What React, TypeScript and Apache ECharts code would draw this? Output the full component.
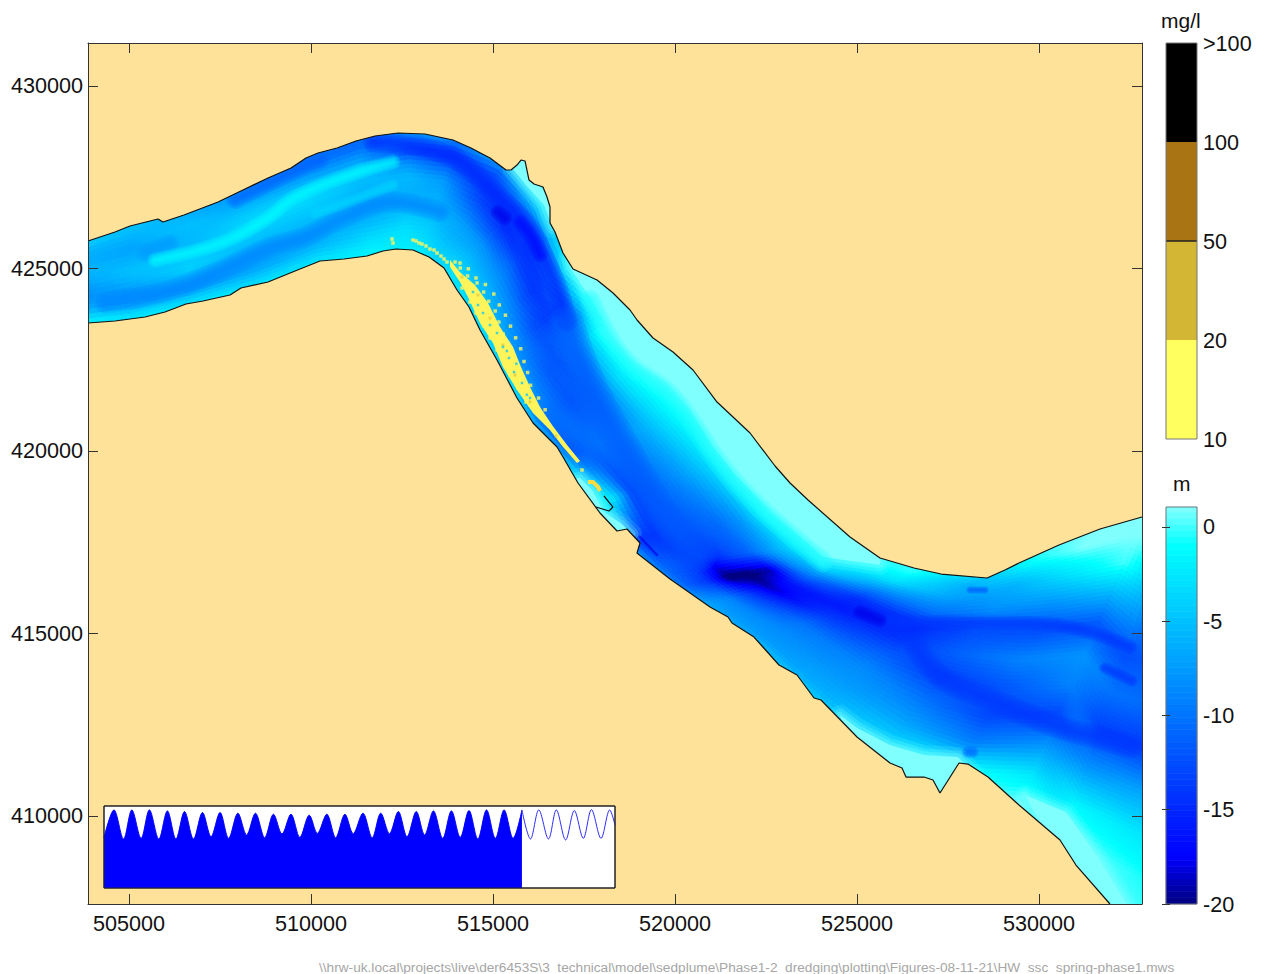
import React, { useEffect, useRef } from "react";
import * as echarts from "echarts";

const xMin = 503873, xMax = 532827, yMin = 407587, yMax = 431178;
const eastTicks = [505000, 510000, 515000, 520000, 525000, 530000];
const northTicks = [410000, 415000, 420000, 425000, 430000];

const northBank = [[503873,425753],[504615,425999],[505027,426164],[505796,426355],[505934,426273],[506510,426465],[507445,426821],[508186,427177],[508818,427479],[509450,427753],[509862,428027],[510191,428164],[510713,428301],[511235,428493],[511757,428630],[512389,428712],[513131,428684],[513900,428520],[514394,428301],[514916,428027],[515356,427698],[515493,427698],[515658,427835],[515768,427972],[515878,427945],[515988,427424],[516125,427314],[516372,427232],[516482,426958],[516565,426684],[516565,426246],[516702,426000],[516922,425424],[517197,424985],[517856,424684],[518296,424328],[518762,423862],[518955,423588],[519394,423095],[519943,422711],[520493,422218],[521152,421341],[521592,420930],[522059,420492],[522746,419588],[523158,419122],[523652,418656],[524806,417642],[525630,417067],[526564,416793],[527306,416628],[528570,416519],[529063,416738],[529448,416930],[530547,417423],[531673,417861],[532827,418190]];
const southBank = [[503873,423506],[504615,423561],[505439,423670],[505989,423807],[506565,424026],[507032,424109],[507774,424273],[508076,424465],[508818,424629],[509560,424931],[510247,425205],[510906,425259],[511538,425342],[511977,425479],[512334,425533],[512801,425506],[513241,425314],[513653,425013],[514010,424410],[514339,423944],[514642,423314],[515109,422492],[515658,421451],[516098,420766],[516757,420108],[516922,419834],[517334,419122],[517938,418300],[518405,417807],[518680,417861],[519037,417478],[518954,417204],[519092,417094],[519861,416491],[520960,415724],[521454,415450],[521564,415286],[522168,414902],[522855,414135],[523350,413861],[523817,413231],[524009,413176],[524998,412162],[525904,411450],[526234,411313],[526344,411066],[526838,411066],[527085,410984],[527278,410628],[527800,411450],[528047,411422],[528596,411066],[529448,410299],[530574,409340],[531013,408655],[531947,407587]];
const harbourWall = [[517828,418464],[518185,418355],[518295,418464],[518047,418766]];

const sectionNorthEnds = [[503379,425780],[505027,426383],[506675,426739],[508186,427424],[509697,428109],[511208,428712],[512719,428931],[514092,428794],[515603,428246],[516427,427424],[516839,426191],[517252,425177],[517938,424739],[519037,424000],[520136,422903],[521372,421396],[522608,420026],[523981,418519],[525080,417560],[525492,417286],[525904,417149],[526995,416875],[528652,416738],[530300,417560],[531673,418108],[533047,418519],[533734,418519],[534145,418519]];
const sectionSouthEnds = [[503379,423314],[505027,423451],[506675,423862],[508461,424355],[510247,425013],[511757,425177],[512581,425369],[512993,425342],[513131,424875],[513543,424465],[513955,423780],[514367,423095],[514779,422410],[515329,421451],[515878,420628],[516702,419807],[517845,418574],[518350,417478],[519037,416793],[519724,416190],[520410,415642],[522059,414546],[523706,412847],[525355,411313],[527278,410436],[529448,410299],[530300,408244],[533321,406874]];
const sectionDepths = [
  [-3,-4,-6,-6,-5.5,-7,-8.5,-8,-6,-2.5,-1],
  [-5,-5,-6,-7,-6,-5,-6,-8,-7,-3.5,-1.5],
  [-6,-6,-5,-5.5,-5.5,-4.5,-4,-5.5,-8,-4,-1.5],
  [-8,-8,-6.5,-4.5,-3.5,-4.5,-5.5,-7,-7,-4,-1.5],
  [-9,-10,-7.5,-4.5,-3.5,-4.5,-5.5,-6.5,-6,-3.5,-1.5],
  [-9,-11,-7.5,-4.5,-5.5,-6,-6.5,-5.5,-3.5,-2,-1.5],
  [-7,-8,-13,-8,-5.5,-6,-6,-4.5,-3,-2.5,-1.5],
  [-6,-10,-14,-11,-7.5,-6.5,-6,-5,-4,-3,-1.5],
  [-3,-6,-12,-14,-13,-10,-7,-6,-4.5,-3.5,-1.5],
  [-1,-2,-8,-14,-15,-12,-8,-6,-4,-2.5,-1.5],
  [-3,-5,-12,-14.5,-13.5,-10,-8,-6,-4.5,-3,-1.5],
  [0,-3,-9,-13.5,-14,-12,-9,-7,-5,-3,-1.5],
  [1,1,-3,-10,-13.5,-13.5,-12,-9,-7,-4,-1.5],
  [1,1,1,-0.5,-5,-9.5,-12,-11.5,-9,-4,-1.5],
  [1,1,1,-0.5,-3,-8,-11,-12,-10.5,-10,-2],
  [1,1,-0.5,-1.5,-4,-6.5,-8.5,-10,-10.5,-12,-3],
  [1,1,-1,-2.5,-5,-7.5,-9.5,-11,-13,-3,-1],
  [1,1,1,-3,-8,-10.5,-11.5,-12.5,-14,-14,-1],
  [1,1,-1,-3,-7,-11,-13,-16,-12.5,-11,-6],
  [1,0,-1.5,-4,-9,-19,-20.5,-20.5,-14,-11,-5],
  [0,-0.5,-2,-4,-10,-16,-19,-14,-9,-7,-3],
  [0,-0.5,-3,-9,-14.5,-16,-13.5,-10,-8.5,-7.5,-3],
  [-0.5,-6,-7,-10,-15,-14,-11,-8.5,-7.5,-6,-2],
  [1,-1,-6,-8,-12.5,-11,-13.5,-10,-7,-3,1],
  [1,1,-3,-8,-12.5,-9,-12,-13,-9,0,1],
  [1,1,0,-6,-12,-8,-9,-13,-8,-2.5,1],
  [1,1,-4,-8,-12.5,-10,-13.5,-8,-1.5,1,1],
  [1,1,-6,-14.5,-11,-11,-14,-6.5,-3,-1,0],
];

// along-channel streaks of the bed, each with the depth it reads at
const streakPaths = [
  [[505439,425424],[506126,425698]],
  [[507911,426876],[508736,427287],[509560,427698],[510246,427972]],
  [[504340,424054],[505879,424328],[507362,424876],[508900,425588],[509834,425862],[510878,426383],[512252,426821],[513543,426547]],
  [[505714,425232],[507527,425698],[508736,426328],[509560,426958],[511208,427616],[512252,427917]],
  [[510109,426520],[510796,426739],[512252,427287]],
  [[511702,428465],[512362,428438],[513735,428109],[514449,427643],[515191,426931],[515933,426191],[516372,425369],[516757,424465],[517031,423533]],
  [[517031,423533],[517663,421807],[518625,420026],[519586,418382],[520685,417149]],
  [[515136,426547],[515328,426383]],
  [[515740,426273],[516015,425917],[516290,425369]],
  [[519037,417642],[519504,417149]],
  [[517663,424136],[518295,422903],[518845,422273],[519778,421615],[520410,420848],[521042,419889],[521701,419067],[522690,418108],[524064,416957]],
  [[525630,415423],[526838,415286],[528706,415286],[530107,415258],[531481,415012],[532500,414620]],
  [[526591,414683],[527305,413806],[528706,413176],[530547,412436],[531673,412135],[532500,411900]],
  [[531810,414053],[532222,413861],[532550,413700]],
  [[528102,416190],[528514,416190]],
  [[528047,411751],[528184,411751]],
  [[525080,415587],[525630,415368]],
];
const streakDepths = [-7.5, -11, -9, -1, -3.5, -15, -11.5, -18, -17, -18, -0.5, -14, -14, -14, -12, -11, -18];
const streakWidths = [12, 12, 14, 10, 8, 14, 22, 10, 10, 2, 14, 10, 16, 8, 5, 8, 10];

const shoalAreas = [
  [[517114,425013],[517663,424218],[518295,423122],[518845,422492],[519778,421862],[520410,421122],[521042,420108],[521701,419286],[522690,418300],[524064,417094],[525630,416875],[525630,417286],[523652,418930],[520685,422766],[517938,424958],[517059,425287]],
  [[515521,427753],[515795,428109],[516070,427479],[516647,426876],[516647,426109],[516400,426739],[515905,427287]],
  [[517389,419259],[517718,418930],[518048,418327],[518542,417998],[518817,417724],[518268,417615],[517608,418437],[517169,419204]],
  [[524531,412765],[524998,412409],[525904,411943],[526838,411669],[527772,411614],[528239,411121],[527278,410436],[526179,410847],[524806,411943]],
  [[529613,410573],[530739,410107],[531481,409066],[532415,407587],[531810,407587],[530574,408792]],
];

const plumeCore = [[513818,425040],[514092,424629],[514312,424218],[514642,423506],[514999,422958],[515274,422300],[515658,421670],[516098,421040],[516565,420574],[516922,420108],[517306,419670],[517389,419725],[517032,420163],[516620,420711],[516290,421204],[516015,421752],[515768,422300],[515548,422848],[515191,423396],[514861,424054],[514504,424547],[514092,424900],[513818,425232]];
const plumeSpecks = [[512224,425807],[512252,425698],[512801,425780],[512884,425753],[512966,425698],[513048,425670],[513158,425616],[513268,425533],[513378,425506],[513460,425424],[513570,425342],[513653,425260],[513735,425177],[513955,425177],[514092,425150],[514100,425013],[514320,424990],[514300,424794],[514530,424740],[514560,424602],[514790,424560],[514740,424355],[515020,424300],[514880,424100],[515170,424000],[515060,423835],[515340,423720],[515160,423533],[515480,423420],[515280,423204],[515620,423100],[515420,422876],[515760,422800],[515500,422574],[515850,422450],[515640,422273],[515950,422150],[515720,421917],[516030,421800],[515880,421588],[516250,421450],[516020,421259],[516430,421130],[517444,419478],[514147,424465],[514367,424081],[514532,423780],[514751,423424],[514916,423095],[515109,422766],[515273,422492],[515466,422081],[515685,421725],[515905,421341]];
const plumeOchre = [[514147,424766],[514587,424273],[514916,423643],[515274,422903],[515603,422081],[516015,421341],[516729,420410]];
const plumeGaps = [[514724,423780],[514916,423451],[515109,423232],[515273,422848],[515438,422547],[515576,422163],[515795,421862],[516015,421451],[514449,424355],[514587,423999],[515380,422740],[515640,422390],[515930,421540]];
const plumeTip = [[517608,419149],[517745,419149],[517883,419012],[517938,418903]];

const tideHours = [0,7.0,13.7,19.5,26.0,31.8,38.4,44.4,50.4,56.4,62.7,69.0,75.0,81.3,87.3,93.8,99.9,106.1,112.6,118.7,124.7,131.0,137.2,143.8,149.5,156.1,162.3,168.8,174.6,181.4,187.9,193.9,200.0,206.2,212.3,218.8,224.6,230.8,237.3,243.4,249.6,255.7,261.9,268.0,274.2,280.3,286.6,292.8,298.8,304.6,311.4,316.9,323.4,329.5,335.8,341.5,348.2,354.3,358];
const tideLevels = [61.4,95.2,59.8,95.2,60.6,95.2,59.8,94.0,59.8,93.2,59.8,92.0,62.7,92.0,60.6,91.2,64.7,91.2,61.4,90.0,65.9,90.0,61.8,88.8,66.7,90.0,61.4,90.0,66.3,91.2,61.4,91.2,66.3,93.2,62.7,93.2,64.7,94.0,60.6,94.0,61.8,94.4,59.8,95.2,60.6,95.2,60.6,95.2,59.8,95.2,59.8,95.2,58.6,94.4,60.6,95.6,60.6,95.2,76.7];
const tideNowIndex = 47;

const concBandColors = ["#FFFF60", "#D2B634", "#A97514", "#000000"];
const concTickLabels = ["10", "20", "50", "100", ">100"];
const depthTicks = [0, -5, -10, -15, -20];
const footerPath = "\\\\hrw-uk.local\\projects\\live\\der6453S\\3_technical\\model\\sedplume\\Phase1-2_dredging\\plotting\\Figures-08-11-21\\HW_ssc_spring-phase1.mws";

const SAND = "#FEE29A";
const FONT = "Liberation Sans, Arial, sans-serif";

function depthColor(d: number) {
  let r = 0, g = 0, b = 255;
  if (d >= -1) {
    const t = Math.min(1, (d + 1) / 2);
    r = 128 * t; g = 255;
  } else if (d >= -17.5) {
    g = (255 * (d + 17.5)) / 16.5;
  } else {
    b = 255 - 127 * Math.min(1, (-17.5 - d) / 2.5);
  }
  return `rgb(${Math.round(r)},${Math.round(g)},${Math.round(b)})`;
}

function buildMesh() {
  const cells: number[][] = [];
  const n = sectionDepths.length;
  const m = sectionDepths[0].length;
  const pt = (i: number, j: number) => {
    const f = j / (m - 1);
    return [
      sectionNorthEnds[i][0] + (sectionSouthEnds[i][0] - sectionNorthEnds[i][0]) * f,
      sectionNorthEnds[i][1] + (sectionSouthEnds[i][1] - sectionNorthEnds[i][1]) * f,
    ];
  };
  for (let i = 0; i < n - 1; i++) {
    for (let j = 0; j < m - 1; j++) {
      const a = pt(i, j), b = pt(i + 1, j), c = pt(i + 1, j + 1), d = pt(i, j + 1);
      const da = sectionDepths[i][j], db = sectionDepths[i + 1][j], dc = sectionDepths[i + 1][j + 1], dd = sectionDepths[i][j + 1];
      const su = Math.max(1, Math.ceil(Math.hypot(b[0] - a[0], b[1] - a[1]) / 130));
      const sv = Math.max(1, Math.ceil(Math.hypot(d[0] - a[0], d[1] - a[1]) / 130));
      const at = (u: number, v: number) => [
        (a[0] * (1 - u) + b[0] * u) * (1 - v) + (d[0] * (1 - u) + c[0] * u) * v,
        (a[1] * (1 - u) + b[1] * u) * (1 - v) + (d[1] * (1 - u) + c[1] * u) * v,
      ];
      for (let p = 0; p < su; p++) {
        for (let q = 0; q < sv; q++) {
          const u0 = p / su, u1 = (p + 1) / su, v0 = q / sv, v1 = (q + 1) / sv;
          const uc = (u0 + u1) / 2, vc = (v0 + v1) / 2;
          const depth = (da * (1 - uc) + db * uc) * (1 - vc) + (dd * (1 - uc) + dc * uc) * vc;
          const c1 = at(u0, v0), c2 = at(u1, v0), c3 = at(u1, v1), c4 = at(u0, v1);
          cells.push([c1[0], c1[1], c2[0], c2[1], c3[0], c3[1], c4[0], c4[1], depth]);
        }
      }
    }
  }
  return cells;
}

function rectShape(api: any, x0: number, y0: number, x1: number, y1: number) {
  const p0 = api.coord([x0, y0]);
  const p1 = api.coord([x1, y1]);
  return {
    x: Math.min(p0[0], p1[0]),
    y: Math.min(p0[1], p1[1]),
    width: Math.abs(p1[0] - p0[0]),
    height: Math.abs(p1[1] - p0[1]),
  };
}

function polygonSeries(points: number[][], style: any, z: number) {
  return {
    type: "custom",
    coordinateSystem: "cartesian2d",
    xAxisIndex: 0,
    yAxisIndex: 0,
    silent: true,
    clip: true,
    z,
    data: [points[0]],
    renderItem: (_: any, api: any) => ({
      type: "polygon",
      shape: { points: points.map((p) => api.coord(p)) },
      style,
    }),
  };
}

function softArea(points: number[][]) {
  const fill = depthColor(1);
  return [
    polygonSeries(points, { fill: "none", stroke: fill, lineWidth: 20, opacity: 0.15, lineJoin: "round" }, 2),
    polygonSeries(points, { fill: "none", stroke: fill, lineWidth: 13, opacity: 0.22, lineJoin: "round" }, 2),
    polygonSeries(points, { fill: "none", stroke: fill, lineWidth: 7, opacity: 0.3, lineJoin: "round" }, 2),
    polygonSeries(points, { fill }, 2),
  ];
}

function frameSeries(idx: number, x0: number, y0: number, x1: number, y1: number, color: string, fill: string, z: number) {
  return {
    type: "custom",
    coordinateSystem: "cartesian2d",
    xAxisIndex: idx,
    yAxisIndex: idx,
    silent: true,
    z,
    data: [[x0, y0, x1, y1]],
    renderItem: (_: any, api: any) => ({
      type: "rect",
      shape: rectShape(api, api.value(0), api.value(1), api.value(2), api.value(3)),
      style: { fill, stroke: color, lineWidth: 1 },
    }),
  };
}

function bankLine(data: number[][], z: number) {
  return {
    type: "line",
    xAxisIndex: 0,
    yAxisIndex: 0,
    data,
    showSymbol: false,
    silent: true,
    z,
    lineStyle: { color: "#111", width: 1.2 },
  };
}

function streakSeries() {
  const layers = [1.5, 1.2, 0.9, 0.6, 0.3];
  const out: any[] = [];
  streakPaths.forEach((path, i) => {
    layers.forEach((w) => {
      out.push({
        type: "line",
        xAxisIndex: 0,
        yAxisIndex: 0,
        data: path,
        smooth: 0.4,
        showSymbol: false,
        silent: true,
        z: 2,
        lineStyle: { color: depthColor(streakDepths[i]), width: streakWidths[i] * w, opacity: 0.22, cap: "round", join: "round" },
      });
    });
  });
  return out;
}

function buildOption() {
  const mesh = buildMesh();
  const colorbarLevels: number[] = [];
  for (let v = -20; v < 1.06; v += 0.33) colorbarLevels.push(v);

  const labelStyle = { fontFamily: FONT, fontSize: 21.6, color: "#111" };
  const hiddenAxis = (gridIndex: number, min: number, max: number) => ({
    type: "value", gridIndex, min, max, show: false, splitLine: { show: false },
  });
  const axisLine = { show: true, onZero: false, lineStyle: { color: "#333", width: 1 } };
  const mainX = (position: string, showLabel: boolean) => ({
    type: "value", gridIndex: 0, position, min: xMin, max: xMax, z: 10,
    axisLine, splitLine: { show: false },
    axisTick: { show: true, inside: true, length: 10, customValues: eastTicks, lineStyle: { color: "#333" } },
    axisLabel: { show: showLabel, customValues: eastTicks, margin: 8, ...labelStyle, formatter: (v: number) => String(v) },
  });
  const mainY = (position: string, showLabel: boolean) => ({
    type: "value", gridIndex: 0, position, min: yMin, max: yMax, z: 10,
    axisLine, splitLine: { show: false },
    axisTick: { show: true, inside: true, length: 10, customValues: northTicks, lineStyle: { color: "#333" } },
    axisLabel: { show: showLabel, customValues: northTicks, margin: 5, ...labelStyle, formatter: (v: number) => String(v) },
  });
  const barY = (position: string, showLabel: boolean) => ({
    type: "value", gridIndex: 3, position, min: -20, max: 1.06, z: 10,
    axisLine: { show: false }, splitLine: { show: false },
    axisTick: { show: true, inside: true, length: 4, customValues: depthTicks, lineStyle: { color: "#333" } },
    axisLabel: { show: showLabel, customValues: depthTicks, margin: 6, ...labelStyle, formatter: (v: number) => String(v) },
  });

  return {
    animation: false,
    backgroundColor: "#ffffff",
    grid: [
      { left: 88, top: 43, width: 1054, height: 861, show: true, backgroundColor: SAND, borderWidth: 0 },
      { left: 104, top: 806, width: 511, height: 82 },
      { left: 1166, top: 43, width: 31, height: 396 },
      { left: 1166, top: 507, width: 31, height: 397 },
    ],
    xAxis: [
      mainX("bottom", true),
      { ...hiddenAxis(1, 0, 358) },
      hiddenAxis(2, 0, 1),
      hiddenAxis(3, 0, 1),
      mainX("top", false),
    ],
    yAxis: [
      mainY("left", true),
      hiddenAxis(1, 0, 100),
      {
        type: "value", gridIndex: 2, position: "right", min: 0, max: 4, interval: 1, z: 10,
        axisLine: { show: false }, axisTick: { show: false }, splitLine: { show: false },
        axisLabel: { margin: 6, ...labelStyle, formatter: (v: number) => concTickLabels[v] },
      },
      barY("right", true),
      mainY("right", false),
      barY("left", false),
    ],
    graphic: {
      elements: [
        { type: "text", x: 1161, y: 10, silent: true, style: { text: "mg/l", font: `21px ${FONT}`, fill: "#111" } },
        { type: "text", x: 1173, y: 473, silent: true, style: { text: "m", font: `21px ${FONT}`, fill: "#111" } },
        { type: "text", x: 319, y: 960, silent: true, style: { text: footerPath, font: `13.67px ${FONT}`, fill: "#A6A6A6" } },
      ],
    },
    series: [
      {
        type: "custom",
        coordinateSystem: "cartesian2d",
        xAxisIndex: 0,
        yAxisIndex: 0,
        silent: true,
        clip: true,
        progressive: 0,
        z: 2,
        data: mesh,
        encode: { x: [0, 2, 4, 6], y: [1, 3, 5, 7] },
        renderItem: (_: any, api: any) => {
          const col = depthColor(api.value(8));
          return {
            type: "polygon",
            shape: {
              points: [
                api.coord([api.value(0), api.value(1)]),
                api.coord([api.value(2), api.value(3)]),
                api.coord([api.value(4), api.value(5)]),
                api.coord([api.value(6), api.value(7)]),
              ],
            },
            style: { fill: col, stroke: col, lineWidth: 1 },
          };
        },
      },
      ...streakSeries(),
      ...shoalAreas.flatMap((area) => softArea(area)),
      polygonSeries([...northBank, [xMax, yMax], [xMin, yMax]], { fill: SAND }, 3),
      polygonSeries([...southBank, [xMin, yMin]], { fill: SAND }, 3),
      bankLine(northBank, 4),
      bankLine(southBank, 4),
      bankLine(harbourWall, 4),
      polygonSeries(plumeCore, { fill: "#FFF55A" }, 5),
      {
        type: "scatter", xAxisIndex: 0, yAxisIndex: 0, data: plumeSpecks, symbol: "rect", symbolSize: 3.5,
        silent: true, z: 5, itemStyle: { color: "#FFF55A" },
      },
      {
        type: "scatter", xAxisIndex: 0, yAxisIndex: 0, data: plumeOchre, symbol: "rect", symbolSize: 3,
        silent: true, z: 5, itemStyle: { color: "#E2CC45" },
      },
      {
        type: "scatter", xAxisIndex: 0, yAxisIndex: 0, data: plumeGaps, symbol: "rect", symbolSize: 2.5,
        silent: true, z: 5, itemStyle: { color: "#18C8F0" },
      },
      {
        type: "line", xAxisIndex: 0, yAxisIndex: 0, data: plumeTip, showSymbol: false, silent: true, z: 5,
        lineStyle: { color: "#F5DC45", width: 4 },
      },
      // inset tide panel
      frameSeries(1, 0, 0, 358, 100, "#222", "#ffffff", 6),
      {
        type: "line", xAxisIndex: 1, yAxisIndex: 1, silent: true, z: 7, smooth: 0.33, showSymbol: false,
        data: tideHours.slice(0, tideNowIndex + 1).map((h, i) => [h, tideLevels[i]]),
        lineStyle: { color: "#0000FF", width: 1 },
        areaStyle: { color: "#0000FF", opacity: 1, origin: "start" },
      },
      {
        type: "line", xAxisIndex: 1, yAxisIndex: 1, silent: true, z: 7, smooth: 0.33, showSymbol: false,
        data: tideHours.slice(tideNowIndex).map((h, i) => [h, tideLevels[i + tideNowIndex]]),
        lineStyle: { color: "#2A2AFF", width: 1 },
      },
      frameSeries(1, 0, 0, 358, 100, "#222", "none", 8),
      // concentration bar
      {
        type: "custom", coordinateSystem: "cartesian2d", xAxisIndex: 2, yAxisIndex: 2, silent: true, z: 2,
        data: concBandColors.map((_, i) => [0, i, 1, i + 1]),
        renderItem: (params: any, api: any) => ({
          type: "rect",
          shape: rectShape(api, api.value(0), api.value(1), api.value(2), api.value(3)),
          style: { fill: concBandColors[params.dataIndex] },
        }),
      },
      frameSeries(2, 0, 2, 1, 2, "#222", "none", 3),
      frameSeries(2, 0, 0, 1, 4, "#777", "none", 4),
      // depth bar
      {
        type: "custom", coordinateSystem: "cartesian2d", xAxisIndex: 3, yAxisIndex: 3, silent: true, z: 2,
        data: colorbarLevels.map((v) => [0, v, 1, v + 0.34]),
        renderItem: (_: any, api: any) => {
          const col = depthColor(api.value(1) + 0.17);
          return {
            type: "rect",
            shape: rectShape(api, api.value(0), api.value(1), api.value(2), Math.min(1.06, api.value(3))),
            style: { fill: col, stroke: col, lineWidth: 0.5 },
          };
        },
      },
      frameSeries(3, 0, -20, 1, 1.06, "#777", "none", 4),
    ],
  };
}

export default function App() {
  const ref = useRef<HTMLDivElement>(null);
  useEffect(() => {
    document.body.style.margin = "0";
    const chart = echarts.init(ref.current!, undefined, { renderer: "svg" });
    chart.setOption(buildOption() as any);
    return () => chart.dispose();
  }, []);
  return <div ref={ref} style={{ width: 1262, height: 974 }} />;
}
